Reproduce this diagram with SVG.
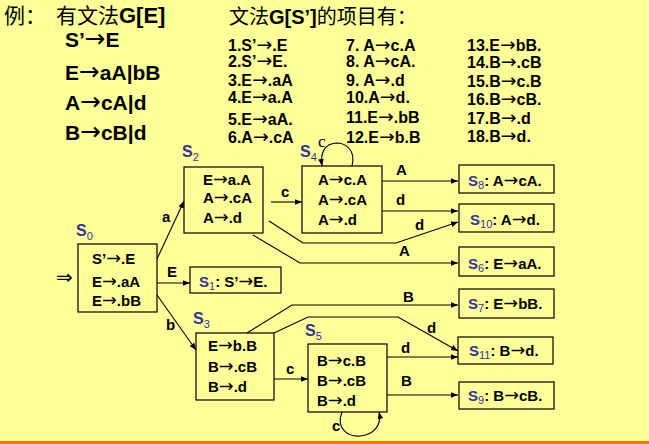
<svg xmlns="http://www.w3.org/2000/svg" width="649" height="444" viewBox="0 0 649 444">
<style>
.bg{fill:#FFFF99}
.b{font-family:"Liberation Sans",Arial,sans-serif;font-weight:bold;fill:#000}
.cj{font-family:"Noto Sans CJK SC","Liberation Sans",sans-serif;font-weight:normal;fill:#000}
.ar{font-family:"DejaVu Sans",sans-serif;font-weight:normal;font-size:118%}
.g{font-size:21px}
.it{font-size:16px}
.t{font-size:15px}
.lb{font-size:15px}
.st{font-family:"Liberation Sans",Arial,sans-serif;font-weight:bold;font-size:16px;fill:#333399}
.sub{font-weight:normal;font-size:11px}
.blue{fill:#333399}
.box{fill:none;stroke:#000;stroke-width:1.2}
.e{fill:none;stroke:#000;stroke-width:1.1}
</style>
<defs>
<marker id="ah" viewBox="0 0 10 10" refX="10" refY="5" markerWidth="7" markerHeight="7" orient="auto" markerUnits="userSpaceOnUse">
<path d="M0,1 L10,5 L0,9 Z" fill="#000"/>
</marker>
</defs>
<rect class="bg" x="0" y="0" width="649" height="444"/>
<rect x="0" y="441" width="649" height="3" fill="#F07800"/>

<g id="title">
<text class="cj" x="4" y="23" font-size="21">例：</text>
<text class="cj" x="56" y="23" font-size="21">有文法<tspan class="b" font-size="22">G[E]</tspan></text>
<text class="b g" x="65" y="47">S’<tspan class="ar">→</tspan>E</text>
<text class="b g" x="65" y="80">E<tspan class="ar">→</tspan>aA|bB</text>
<text class="b g" x="65" y="110">A<tspan class="ar">→</tspan>cA|d</text>
<text class="b g" x="65" y="140">B<tspan class="ar">→</tspan>cB|d</text>
</g>

<g id="items">
<text class="cj" x="229" y="24" font-size="20">文法<tspan class="b">G[S’]</tspan>的项目有：</text>
<g class="b it">
<text x="228" y="51">1.S’<tspan class="ar">→</tspan>.E</text>
<text x="228" y="67">2.S’<tspan class="ar">→</tspan>E.</text>
<text x="228" y="86">3.E<tspan class="ar">→</tspan>.aA</text>
<text x="228" y="103">4.E<tspan class="ar">→</tspan>a.A</text>
<text x="228" y="125">5.E<tspan class="ar">→</tspan>aA.</text>
<text x="228" y="143">6.A<tspan class="ar">→</tspan>.cA</text>
<text x="346" y="51">7. A<tspan class="ar">→</tspan>c.A</text>
<text x="346" y="67">8. A<tspan class="ar">→</tspan>cA.</text>
<text x="346" y="86">9. A<tspan class="ar">→</tspan>.d</text>
<text x="346" y="103">10.A<tspan class="ar">→</tspan>d.</text>
<text x="346" y="123">11.E<tspan class="ar">→</tspan>.bB</text>
<text x="346" y="143">12.E<tspan class="ar">→</tspan>b.B</text>
<text x="467" y="51">13.E<tspan class="ar">→</tspan>bB.</text>
<text x="467" y="68">14.B<tspan class="ar">→</tspan>.cB</text>
<text x="467" y="87">15.B<tspan class="ar">→</tspan>c.B</text>
<text x="467" y="105">16.B<tspan class="ar">→</tspan>cB.</text>
<text x="467" y="124">17.B<tspan class="ar">→</tspan>.d</text>
<text x="467" y="142">18.B<tspan class="ar">→</tspan>d.</text>
</g>
</g>

<g id="connectors">
<path class="e" d="M157,259 L184,201" marker-end="url(#ah)"/>
<path class="e" d="M157,283 L190,283" marker-end="url(#ah)"/>
<path class="e" d="M157,295 L196,350" marker-end="url(#ah)"/>
<path class="e" d="M271,202 L302,202" marker-end="url(#ah)"/>
<path class="e" d="M269,221 L303,243 L396,243 L458,222" marker-end="url(#ah)"/>
<path class="e" d="M253,235 L300,263 L458,263" marker-end="url(#ah)"/>
<path class="e" d="M382,181 L458,181" marker-end="url(#ah)"/>
<path class="e" d="M382,211 L458,211" marker-end="url(#ah)"/>
<path class="e" d="M247,333 L292,305 L458,305" marker-end="url(#ah)"/>
<path class="e" d="M274,333 L308,317 L398,317 L458,351" marker-end="url(#ah)"/>
<path class="e" d="M274,379 L308,379" marker-end="url(#ah)"/>
<path class="e" d="M387,357 L458,357" marker-end="url(#ah)"/>
<path class="e" d="M387,395 L458,395" marker-end="url(#ah)"/>
<path class="e" d="M352,166 C356,150 346,143 336,143 C325,144 320,152 322,166" marker-end="url(#ah)"/>
<path class="e" d="M342,412 C335,430 350,437 360,436 C373,435 382,426 379,412" marker-end="url(#ah)"/>
<g class="b lb">
<text x="162" y="222">a</text>
<text x="167" y="277">E</text>
<text x="166" y="330">b</text>
<text x="281" y="197">c</text>
<text x="396" y="175">A</text>
<text x="396" y="205">d</text>
<text x="415" y="230">d</text>
<text x="399" y="256">A</text>
<text x="403" y="302">B</text>
<text x="427" y="333">d</text>
<text x="286" y="374">c</text>
<text x="401" y="353">d</text>
<text x="401" y="386">B</text>
<text x="332" y="431">c</text>
</g>
<text x="318" y="147" font-family="'Liberation Serif',serif" font-size="17" fill="#000">c</text>
<text x="56" y="284" font-family="'DejaVu Sans',sans-serif" font-size="20" fill="#000">⇒</text>
</g>

<g id="S0">
<rect class="box" x="78" y="244" width="79" height="68"/>
<text class="st" x="76" y="236">S<tspan class="sub" dy="4">0</tspan></text>
<g class="b t">
<text x="92" y="264">S’<tspan class="ar">→</tspan>.E</text>
<text x="92" y="287">E<tspan class="ar">→</tspan>.aA</text>
<text x="92" y="306">E<tspan class="ar">→</tspan>.bB</text>
</g>
</g>

<g id="S1">
<rect class="box" x="190" y="267" width="91" height="26"/>
<text class="b t" x="199" y="287"><tspan class="blue">S</tspan><tspan class="blue sub" dy="3">1</tspan><tspan dy="-3">: S’</tspan><tspan class="ar">→</tspan>E.</text>
</g>

<g id="S2">
<rect class="box" x="184" y="167" width="79" height="66"/>
<text class="st" x="182" y="157">S<tspan class="sub" dy="4">2</tspan></text>
<g class="b t">
<text x="203" y="185">E<tspan class="ar">→</tspan>a.A</text>
<text x="203" y="203">A<tspan class="ar">→</tspan>.cA</text>
<text x="203" y="223">A<tspan class="ar">→</tspan>.d</text>
</g>
</g>

<g id="S3">
<rect class="box" x="196" y="333" width="78" height="67"/>
<text class="st" x="193" y="324">S<tspan class="sub" dy="4">3</tspan></text>
<g class="b t">
<text x="208" y="351">E<tspan class="ar">→</tspan>b.B</text>
<text x="208" y="372">B<tspan class="ar">→</tspan>.cB</text>
<text x="208" y="392">B<tspan class="ar">→</tspan>.d</text>
</g>
</g>

<g id="S4">
<rect class="box" x="302" y="166" width="80" height="67"/>
<text class="st" x="300" y="157">S<tspan class="sub" dy="4">4</tspan></text>
<g class="b t">
<text x="318" y="185">A<tspan class="ar">→</tspan>c.A</text>
<text x="318" y="205">A<tspan class="ar">→</tspan>.cA</text>
<text x="318" y="225">A<tspan class="ar">→</tspan>.d</text>
</g>
</g>

<g id="S5">
<rect class="box" x="308" y="344" width="79" height="68"/>
<text class="st" x="305" y="336">S<tspan class="sub" dy="4">5</tspan></text>
<g class="b t">
<text x="317" y="366">B<tspan class="ar">→</tspan>c.B</text>
<text x="317" y="386">B<tspan class="ar">→</tspan>.cB</text>
<text x="317" y="406">B<tspan class="ar">→</tspan>.d</text>
</g>
</g>

<g id="S8">
<rect class="box" x="459" y="165" width="95" height="28"/>
<text class="b t" x="468" y="186"><tspan class="blue">S</tspan><tspan class="blue sub" dy="3">8</tspan><tspan dy="-3">: A</tspan><tspan class="ar">→</tspan>cA.</text>
</g>

<g id="S10">
<rect class="box" x="459" y="204" width="95" height="28"/>
<text class="b t" x="470" y="225"><tspan class="blue">S</tspan><tspan class="blue sub" dy="3">10</tspan><tspan dy="-3">: A</tspan><tspan class="ar">→</tspan>d.</text>
</g>

<g id="S6">
<rect class="box" x="459" y="247" width="95" height="29"/>
<text class="b t" x="468" y="269"><tspan class="blue">S</tspan><tspan class="blue sub" dy="3">6</tspan><tspan dy="-3">: E</tspan><tspan class="ar">→</tspan>aA.</text>
</g>

<g id="S7">
<rect class="box" x="459" y="289" width="95" height="29"/>
<text class="b t" x="468" y="309"><tspan class="blue">S</tspan><tspan class="blue sub" dy="3">7</tspan><tspan dy="-3">: E</tspan><tspan class="ar">→</tspan>bB.</text>
</g>

<g id="S11">
<rect class="box" x="458" y="337" width="95" height="27"/>
<text class="b t" x="469" y="356"><tspan class="blue">S</tspan><tspan class="blue sub" dy="3">11</tspan><tspan dy="-3">: B</tspan><tspan class="ar">→</tspan>d.</text>
</g>

<g id="S9">
<rect class="box" x="459" y="382" width="95" height="27"/>
<text class="b t" x="468" y="401"><tspan class="blue">S</tspan><tspan class="blue sub" dy="3">9</tspan><tspan dy="-3">: B</tspan><tspan class="ar">→</tspan>cB.</text>
</g>
</svg>
